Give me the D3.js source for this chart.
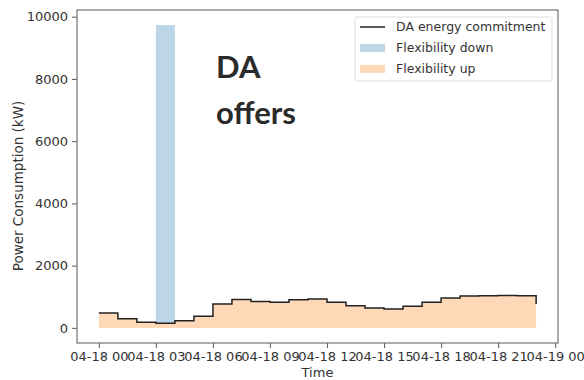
<!DOCTYPE html>
<html>
<head>
<meta charset="utf-8">
<script src="https://cdn.jsdelivr.net/npm/d3@7"></script>
<style>
  body { margin: 0; background: #fff; }
  svg { display: block; font-family: "DejaVu Sans", sans-serif; }
</style>
</head>
<body>
<script>
// hourly DA values, 04-18 00:00 .. 23:00
const hours = [0, 1, 2, 3, 4, 5, 6, 7, 8, 9, 10, 11, 12, 13, 14, 15, 16, 17, 18, 19, 20, 21, 22, 23];
const commitment = [480, 290, 180, 150, 230, 375, 770, 910, 845, 825, 900, 925,
  825, 715, 640, 605, 695, 825, 960, 1025, 1030, 1040, 1035, 770];
const flexDown = [0, 0, 0, 9580, 0, 0, 0, 0, 0, 0, 0, 0,
  0, 0, 0, 0, 0, 0, 0, 0, 0, 0, 0, 0];
const xTickHours = [0, 3, 6, 9, 12, 15, 18, 21, 24];
const xTickLabels = ["04-18 00", "04-18 03", "04-18 06", "04-18 09", "04-18 12",
  "04-18 15", "04-18 18", "04-18 21", "04-19 00"];
const yTicks = [0, 2000, 4000, 6000, 8000, 10000];
const legendItems = ["DA energy commitment", "Flexibility down", "Flexibility up"];

const baseWidth = 584,
  baseHeight = 380;
const margin = { top: 10, right: 26, bottom: 37, left: 77 };
const width = baseWidth - margin.left - margin.right;
const height = baseHeight - margin.top - margin.bottom;

const colors = {
  line: "#222",
  down: "#bcd6e8",
  up: "#ffd9b7",
  spine: "#666",
  text: "#333",
};

const x = d3.scaleLinear().domain([-1.15, 24.15]).range([0, width]);
const y = d3.scaleLinear().domain([-486, 10216]).range([height, 0]);

const svg = d3
  .select("body")
  .append("svg")
  .attr("width", baseWidth)
  .attr("height", baseHeight);

const chart = svg
  .append("g")
  .attr("transform", "translate(" + margin.left + "," + margin.top + ")");

const series = hours.map((h, i) => ({ h: h, v: commitment[i], d: flexDown[i] }));

// Flexibility up: fill under the commitment
const area = d3
  .area()
  .curve(d3.curveStepAfter)
  .x((d) => x(d.h))
  .y0(y(0))
  .y1((d) => y(d.v));

chart.append("path").datum(series).attr("d", area).attr("fill", colors.up);

// Flexibility down bars
chart
  .selectAll(".down")
  .data(series.filter((d) => d.d > 0))
  .enter()
  .append("rect")
  .attr("x", (d) => x(d.h))
  .attr("width", (d) => x(d.h + 1) - x(d.h))
  .attr("y", (d) => y(d.v + d.d))
  .attr("height", (d) => y(d.v) - y(d.v + d.d))
  .attr("fill", colors.down);

// DA energy commitment step line
const line = d3
  .line()
  .curve(d3.curveStepAfter)
  .x((d) => x(d.h))
  .y((d) => y(d.v));

chart
  .append("path")
  .datum(series)
  .attr("d", line)
  .attr("fill", "none")
  .attr("stroke", colors.line)
  .attr("stroke-width", 1.5);

// axes
const xAxis = d3
  .axisBottom(x)
  .tickValues(xTickHours)
  .tickFormat((d, i) => xTickLabels[i])
  .tickSizeOuter(0)
  .tickSize(5)
  .tickPadding(4);

const yAxis = d3
  .axisLeft(y)
  .tickValues(yTicks)
  .tickFormat((d) => d)
  .tickSizeOuter(0)
  .tickSize(5)
  .tickPadding(4);

const gx = chart
  .append("g")
  .attr("transform", "translate(0," + height + ")")
  .call(xAxis);
const gy = chart.append("g").call(yAxis);

[gx, gy].forEach((g) => {
  g.select(".domain").remove();
  g.selectAll("line").attr("stroke", colors.spine).attr("stroke-width", 1.1);
  g.selectAll("text")
    .attr("fill", colors.text)
    .style("font-size", "13px")
    .style("font-family", "DejaVu Sans");
});

// spines
chart
  .append("rect")
  .attr("width", width)
  .attr("height", height)
  .attr("fill", "none")
  .attr("stroke", colors.spine)
  .attr("stroke-width", 1.1);

// axis labels
svg
  .append("text")
  .attr("x", margin.left + width / 2)
  .attr("y", 377)
  .attr("text-anchor", "middle")
  .attr("fill", colors.text)
  .style("font-size", "13px")
  .text("Time");

svg
  .append("text")
  .attr("transform", "translate(23,186) rotate(-90)")
  .attr("text-anchor", "middle")
  .attr("fill", colors.text)
  .style("font-size", "13.5px")
  .text("Power Consumption (kW)");

// legend
const legend = svg.append("g").attr("transform", "translate(355,17)");
legend
  .append("rect")
  .attr("width", 197)
  .attr("height", 64)
  .attr("rx", 2)
  .attr("fill", "#fff")
  .attr("stroke", "#ddd");

legendItems.forEach((name, i) => {
  const row = legend.append("g").attr("transform", "translate(5," + (10 + i * 21) + ")");
  if (i === 0) {
    row
      .append("line")
      .attr("x1", 0)
      .attr("x2", 25)
      .attr("stroke", colors.line)
      .attr("stroke-width", 1.5);
  } else {
    row
      .append("rect")
      .attr("y", -4)
      .attr("width", 25)
      .attr("height", 8)
      .attr("fill", i === 1 ? colors.down : colors.up);
  }
  row
    .append("text")
    .attr("x", 36)
    .attr("dy", "0.35em")
    .attr("fill", colors.text)
    .style("font-size", "12.5px")
    .text(name);
});

// annotation
const note = svg
  .append("text")
  .attr("fill", "#2b2b2b")
  .style("font-family", "Lato, 'Open Sans', sans-serif")
  .style("font-weight", "bold")
  .style("font-size", "31px");
note.append("tspan").attr("x", 216).attr("y", 78).text("DA");
note.append("tspan").attr("x", 216).attr("y", 124).text("offers");
</script>
</body>
</html>
